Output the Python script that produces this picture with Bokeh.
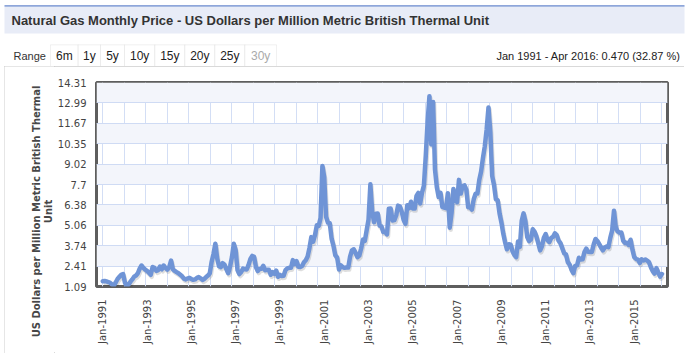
import numpy as np
from bokeh.plotting import figure
from bokeh.layouts import column, row
from bokeh.models import Range1d, FixedTicker, Label, BoxAnnotation
from bokeh.embed import file_html
from bokeh.resources import INLINE

# ---------------- data ----------------
title_text = "Natural Gas Monthly Price - US Dollars per Million Metric British Thermal Unit"
range_label = "Range"
range_buttons = ["6m", "1y", "5y", "10y", "15y", "20y", "25y", "30y"]
range_summary = "Jan 1991 - Apr 2016: 0.470 (32.87 %)"
y_title_lines = ["US Dollars per Million Metric British Thermal", "Unit"]

y_ticks = [1.09, 2.41, 3.74, 5.06, 6.38, 7.7, 9.02, 10.35, 11.67, 12.99, 14.31]
y_tick_labels = ["1.09", "2.41", "3.74", "5.06", "6.38", "7.7", "9.02", "10.35", "11.67", "12.99", "14.31"]
x_tick_labels = ["Jan-1991", "Jan-1993", "Jan-1995", "Jan-1997", "Jan-1999", "Jan-2001", "Jan-2003",
                 "Jan-2005", "Jan-2007", "Jan-2009", "Jan-2011", "Jan-2013", "Jan-2015"]
x_tick_months = [0, 24, 48, 72, 96, 120, 144, 168, 192, 216, 240, 264, 288]

p1991 = [1.43, 1.45, 1.42, 1.38, 1.33, 1.22, 1.15, 1.35, 1.58, 1.72, 1.85, 1.90]
p1992 = [1.35, 1.10, 1.22, 1.40, 1.55, 1.73, 1.80, 1.95, 2.25, 2.45, 2.30, 2.18]
p1993 = [2.10, 1.98, 1.85, 2.35, 2.30, 2.10, 2.15, 2.38, 2.20, 2.45, 2.30, 2.18]
p1994 = [2.35, 2.77, 2.20, 2.10, 2.02, 1.95, 1.85, 1.75, 1.60, 1.55, 1.62, 1.65]
p1995 = [1.58, 1.52, 1.55, 1.65, 1.70, 1.62, 1.52, 1.58, 1.70, 1.80, 1.95, 2.70]
p1996 = [3.20, 3.86, 2.90, 2.40, 2.35, 2.60, 2.50, 2.20, 1.95, 2.40, 3.00, 3.86]
p1997 = [3.45, 2.15, 1.89, 2.03, 2.25, 2.20, 2.19, 2.49, 2.88, 3.07, 3.01, 2.35]
p1998 = [2.09, 2.23, 2.24, 2.43, 2.14, 2.17, 2.17, 1.85, 2.02, 1.91, 2.12, 1.72]
p1999 = [1.85, 1.77, 1.79, 2.15, 2.26, 2.30, 2.31, 2.80, 2.55, 2.73, 2.37, 2.36]
p2000 = [2.42, 2.66, 2.79, 3.04, 3.59, 4.29, 3.99, 4.43, 5.06, 5.02, 5.52, 8.90]
p2001 = [8.17, 5.61, 5.23, 5.19, 4.19, 3.72, 3.11, 2.97, 2.19, 2.46, 2.34, 2.30]
p2002 = [2.32, 2.32, 3.03, 3.43, 3.50, 3.26, 2.99, 3.09, 3.55, 4.13, 4.04, 4.74]
p2003 = [5.43, 7.71, 5.93, 5.26, 5.81, 5.82, 5.03, 4.99, 4.62, 4.63, 4.47, 6.13]
p2004 = [6.14, 5.37, 5.39, 5.71, 6.33, 6.27, 5.93, 5.41, 5.15, 6.35, 6.17, 6.58]
p2005 = [6.15, 6.14, 6.96, 7.16, 6.47, 7.18, 7.63, 9.53, 11.75, 13.42, 10.30, 13.05]
p2006 = [8.69, 7.54, 6.89, 7.16, 6.25, 6.21, 6.17, 7.14, 4.90, 5.85, 7.41, 6.73]
p2007 = [6.55, 8.00, 7.11, 7.60, 7.64, 7.35, 6.22, 6.22, 6.08, 6.74, 7.10, 7.11]
p2008 = [7.99, 8.54, 9.41, 10.18, 11.27, 12.69, 11.09, 8.26, 7.67, 6.74, 6.68, 5.82]
p2009 = [5.24, 4.52, 3.96, 3.50, 3.83, 3.80, 3.38, 3.14, 2.99, 4.01, 3.66, 5.35]
p2010 = [5.83, 5.32, 4.29, 4.03, 4.14, 4.80, 4.63, 4.32, 3.89, 3.43, 3.71, 4.25]
p2011 = [4.49, 4.09, 3.97, 4.24, 4.31, 4.54, 4.42, 4.06, 3.90, 3.57, 3.24, 3.17]
p2012 = [2.67, 2.50, 2.17, 1.95, 2.43, 2.46, 2.95, 2.84, 2.85, 3.32, 3.54, 3.34]
p2013 = [3.33, 3.33, 3.81, 4.17, 4.04, 3.83, 3.62, 3.43, 3.62, 3.68, 3.64, 4.24]
p2014 = [4.71, 6.00, 4.90, 4.66, 4.58, 4.59, 4.05, 3.91, 3.92, 3.78, 4.12, 3.48]
p2015 = [2.99, 2.87, 2.83, 2.61, 2.85, 2.78, 2.84, 2.77, 2.66, 2.34, 2.09, 1.93]
p2016 = [2.28, 1.99, 1.73, 1.90]

prices = (p1991 + p1992 + p1993 + p1994 + p1995 + p1996 + p1997 + p1998 + p1999 + p2000 +
          p2001 + p2002 + p2003 + p2004 + p2005 + p2006 + p2007 + p2008 + p2009 + p2010 +
          p2011 + p2012 + p2013 + p2014 + p2015 + p2016)
months = list(range(len(prices)))

# ---------------- header (title bar + range row) ----------------
HW, HH = 688, 66
header = figure(width=HW, height=HH, output_backend="svg", toolbar_location=None,
                x_range=Range1d(0, HW), y_range=Range1d(HH, 0),
                x_axis_location=None, y_axis_location=None,
                min_border_left=0, min_border_right=0, min_border_top=0, min_border_bottom=0)
header.frame_align = False
header.outline_line_color = None
header.background_fill_color = "white"
header.border_fill_color = "white"
header.grid.visible = False

def hbox(X0, X1, Y0, Y1, **kw):
    header.add_layout(BoxAnnotation(left=X0, right=X1, top=Y0, bottom=Y1, **kw))

def hlabel(X, Y, text, **kw):
    header.add_layout(Label(x=X, y=Y, text=text, **kw))

hbox(4, 684, 6, 33, fill_color="#e8ecf7", fill_alpha=1.0, line_color=None)
hbox(4, 684, 4.6, 6.2, fill_color="#8ea6da", fill_alpha=1.0, line_color=None)
hlabel(11, 20, title_text, text_font="Liberation Sans", text_font_style="bold",
       text_font_size="13px", text_color="#333333", text_baseline="middle", text_align="left")

btn_edges = [50, 77.7, 100, 124, 154.3, 184.3, 214.3, 244.3, 276]
for i, name in enumerate(range_buttons):
    a, b = btn_edges[i], btn_edges[i + 1]
    hbox(a, b, 44.3, 67, fill_color="white", fill_alpha=1.0, line_color="#cfcfcf", line_width=1)
    hlabel((a + b) / 2, 55.5, name, text_font="Liberation Sans", text_font_size="12px",
           text_color="#aaaaaa" if name == "30y" else "#222222",
           text_baseline="middle", text_align="center")
hlabel(13, 55.5, range_label, text_font="Liberation Sans", text_font_size="11px",
       text_color="#333333", text_baseline="middle", text_align="left")
hlabel(680, 55.5, range_summary, text_font="Liberation Sans", text_font_size="11px",
       text_color="#222222", text_baseline="middle", text_align="right")

# ---------------- y axis title panel ----------------
BODY_TOP, BODY_BOTTOM = 66, 353
BH = BODY_BOTTOM - BODY_TOP
TW = 50                       # page x 4 .. 54
ytitle = figure(width=TW, height=BH, output_backend="svg", toolbar_location=None,
                x_range=Range1d(0, TW), y_range=Range1d(BH, 0),
                x_axis_location=None, y_axis_location=None,
                min_border_left=0, min_border_right=0, min_border_top=0, min_border_bottom=0)
ytitle.frame_align = False
ytitle.outline_line_color = None
ytitle.background_fill_color = "white"
ytitle.border_fill_color = "white"
ytitle.grid.visible = False
ytitle.add_layout(Label(x=31.5, y=211 - BODY_TOP, text=y_title_lines[0], angle=np.pi / 2,
                        text_font="DejaVu Sans", text_font_style="bold", text_font_size="10px",
                        text_color="#474747", text_baseline="middle", text_align="center"))
ytitle.add_layout(Label(x=43.5, y=211 - BODY_TOP, text=y_title_lines[1], angle=np.pi / 2,
                        text_font="DejaVu Sans", text_font_style="bold", text_font_size="10px",
                        text_color="#474747", text_baseline="middle", text_align="center"))

# ---------------- main chart ----------------
FL, FR, FT, FB = 87, 667, 82, 286   # frame edges on the page
MX0 = 4 + TW                        # page x where the main figure starts
MW = 684 - MX0
x0, x1 = -3.4, 306.0
y0, y1 = y_ticks[0], y_ticks[-1]

p = figure(width=MW, height=BH, output_backend="svg", toolbar_location=None,
           x_range=Range1d(x0, x1), y_range=Range1d(y0, y1),
           min_border_left=FL - MX0, min_border_right=684 - FR,
           min_border_top=FT - BODY_TOP, min_border_bottom=BODY_BOTTOM - FB)
p.frame_align = False
p.background_fill_color = "white"
p.border_fill_color = "white"
p.outline_line_color = "#5e5e5e"
p.outline_line_width = 3

p.yaxis.ticker = FixedTicker(ticks=y_ticks)
p.yaxis.major_label_overrides = {t: l for t, l in zip(y_ticks, y_tick_labels)}
p.yaxis.axis_line_color = None
p.yaxis.major_tick_line_color = None
p.yaxis.minor_tick_line_color = None
p.yaxis.major_label_text_font = "DejaVu Sans"
p.yaxis.major_label_text_font_size = "10px"
p.yaxis.major_label_text_color = "#444444"
p.yaxis.major_label_standoff = 4

p.xaxis.ticker = FixedTicker(ticks=x_tick_months)
p.xaxis.major_label_overrides = {t: l for t, l in zip(x_tick_months, x_tick_labels)}
p.xaxis.axis_line_color = None
p.xaxis.major_tick_line_color = None
p.xaxis.minor_tick_line_color = None
p.xaxis.major_label_orientation = np.pi / 2
p.xaxis.major_label_text_font = "DejaVu Sans"
p.xaxis.major_label_text_font_size = "10px"
p.xaxis.major_label_text_color = "#444444"
p.xaxis.major_label_standoff = 7

p.xgrid.ticker = FixedTicker(ticks=list(np.linspace(months[0], months[-1], 27)))
p.xgrid.grid_line_color = "#d3def5"
p.ygrid.ticker = FixedTicker(ticks=y_ticks)
p.ygrid.grid_line_color = "#cfdbf4"
p.ygrid.band_fill_color = "#f3f5fb"
p.ygrid.band_fill_alpha = 1.0

px_per_month = (FR - FL) / (x1 - x0)
px_per_unit = (FB - FT) / (y1 - y0)
p.line([m + 1.0 / px_per_month for m in months], [v - 2.0 / px_per_unit for v in prices],
       line_color="#000000", line_alpha=0.13, line_width=4.5, line_join="round")
p.line(months, prices, line_color="#6f94d6", line_width=4.5, line_join="round", line_cap="round")

body = row(ytitle, p, margin=(0, 0, 0, 4),
           styles={"outline": "1px solid #cccccc", "outline-offset": "-1px"})
page = column(header, body)

open("out.html", "w").write(file_html(page, INLINE))
